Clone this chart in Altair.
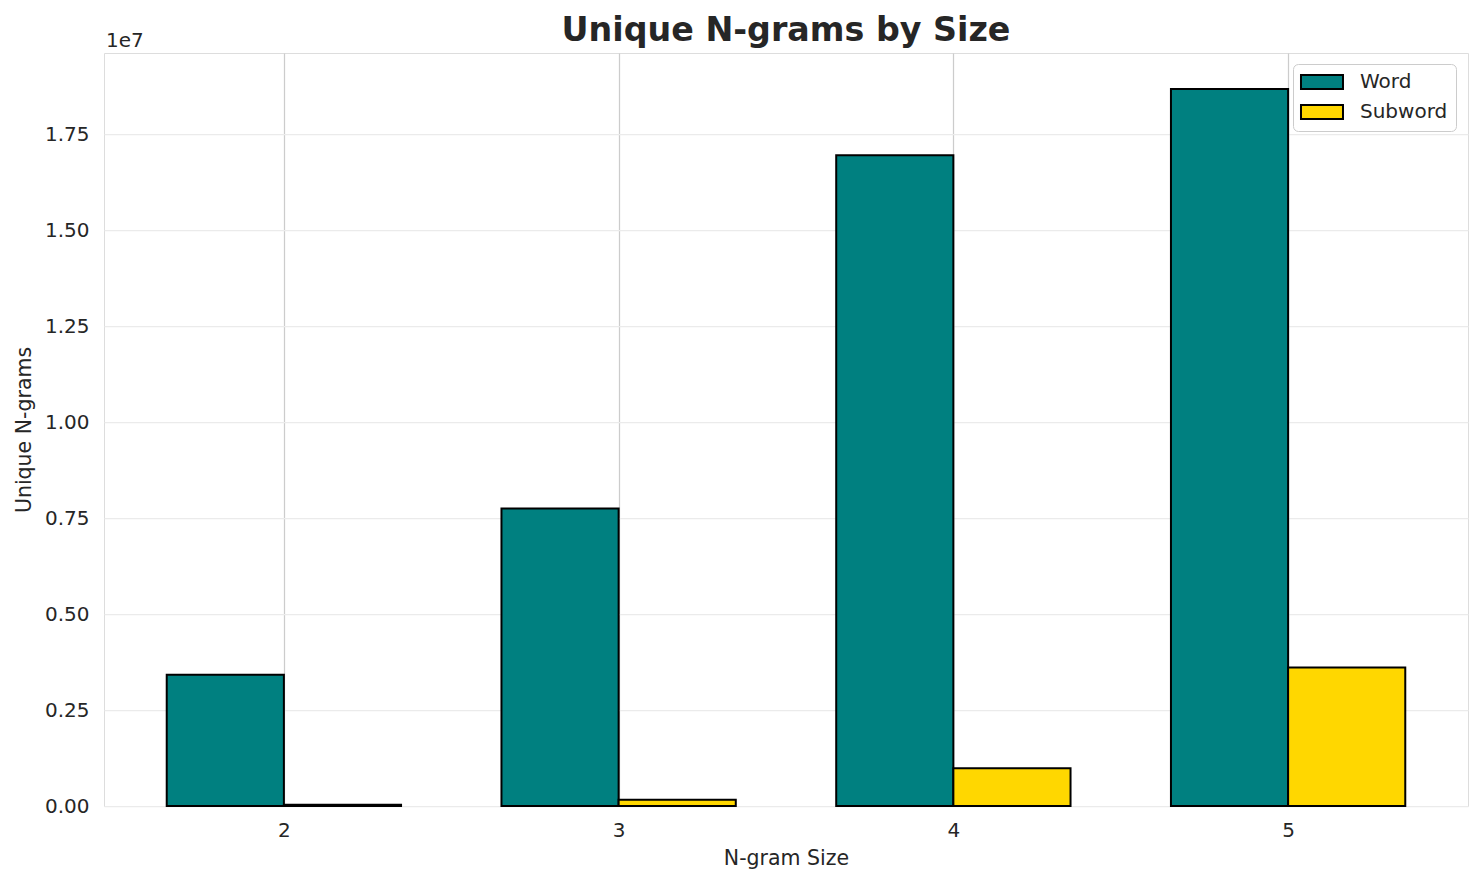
import altair as alt
import pandas as pd

# ---- data ----
sizes = [2, 3, 4, 5]
word_counts = [3.42e6, 7.75e6, 16.95e6, 18.67e6]
subword_counts = [0.03e6, 0.16e6, 0.98e6, 3.61e6]
series_names = ["Word", "Subword"]
series_colors = ["#008080", "#FFD700"]
y_tick_values = [0, 2.5e6, 5.0e6, 7.5e6, 10.0e6, 12.5e6, 15.0e6, 17.5e6]
offset_label = ["1e7"]
bar_width = 0.35

rows = []
for n, w, s in zip(sizes, word_counts, subword_counts):
    rows.append({"size": n, "series": "Word", "count": w, "x0": n - bar_width, "x1": n})
    rows.append({"size": n, "series": "Subword", "count": s, "x0": n, "x1": n + bar_width})
df = pd.DataFrame(rows)

FONT = "DejaVu Sans"
TEXT = "#262626"
W, H = 1364, 753

bars = alt.Chart(df).mark_bar(stroke="black", strokeWidth=2, opacity=1).encode(
    x=alt.X(
        "x0:Q",
        scale=alt.Scale(domain=[1.4626, 5.5374], nice=False, zero=False),
        axis=alt.Axis(
            values=sizes, format="d", title="N-gram Size",
            grid=True, gridColor="#cccccc", gridWidth=1.25,
            domain=False, ticks=False, labelPadding=14,
            labelFontSize=20, labelFont=FONT, labelColor=TEXT,
            titleFontSize=20.5, titleFont=FONT, titleColor=TEXT,
            titleFontWeight="normal", titlePadding=8,
        ),
    ),
    x2="x1:Q",
    y=alt.Y(
        "count:Q",
        scale=alt.Scale(domain=[0, 19.61e6], nice=False),
        axis=alt.Axis(
            values=y_tick_values, labelExpr="format(datum.value / 1e7, '.2f')",
            title="Unique N-grams",
            grid=True, gridColor="#ebebeb", gridWidth=1.25,
            domain=False, ticks=False, labelPadding=15,
            labelFontSize=20, labelFont=FONT, labelColor=TEXT,
            titleFontSize=20.5, titleFont=FONT, titleColor=TEXT,
            titleFontWeight="normal", titlePadding=10,
        ),
    ),
    y2=alt.datum(0),
    color=alt.Color(
        "series:N",
        scale=alt.Scale(domain=series_names, range=series_colors),
        sort=series_names,
        legend=alt.Legend(
            title=None, orient="none", legendX=1189, legendY=11,
            symbolType="M-1.43,-1L4.57,-1L4.57,1L-1.43,1Z",
            symbolSize=196, symbolStrokeColor="black", symbolStrokeWidth=2,
            symbolOpacity=1,
            labelFontSize=20, labelFont=FONT, labelColor=TEXT, labelOffset=39,
            padding=8, rowPadding=8,
            strokeColor="#cccccc", fillColor="white", cornerRadius=5,
        ),
    ),
)

offset_text = alt.Chart(pd.DataFrame({"t": offset_label})).mark_text(
    align="left", baseline="alphabetic", fontSize=20, font=FONT, color=TEXT
).encode(text="t:N", x=alt.value(2), y=alt.value(-6))

chart = alt.layer(bars, offset_text).properties(
    width=W,
    height=H,
    title=alt.Title(
        "Unique N-grams by Size", fontSize=33.3, fontWeight="bold", font=FONT,
        color=TEXT, anchor="middle", offset=-17, frame="group",
    ),
    padding={"left": 96, "top": 45, "right": 8, "bottom": 70},
    autosize=alt.AutoSizeParams(type="none"),
).configure_view(
    stroke="#cccccc", strokeWidth=1.25
).configure(background="white")

chart.save("out.html", embed_options={"renderer": "svg", "actions": False})
